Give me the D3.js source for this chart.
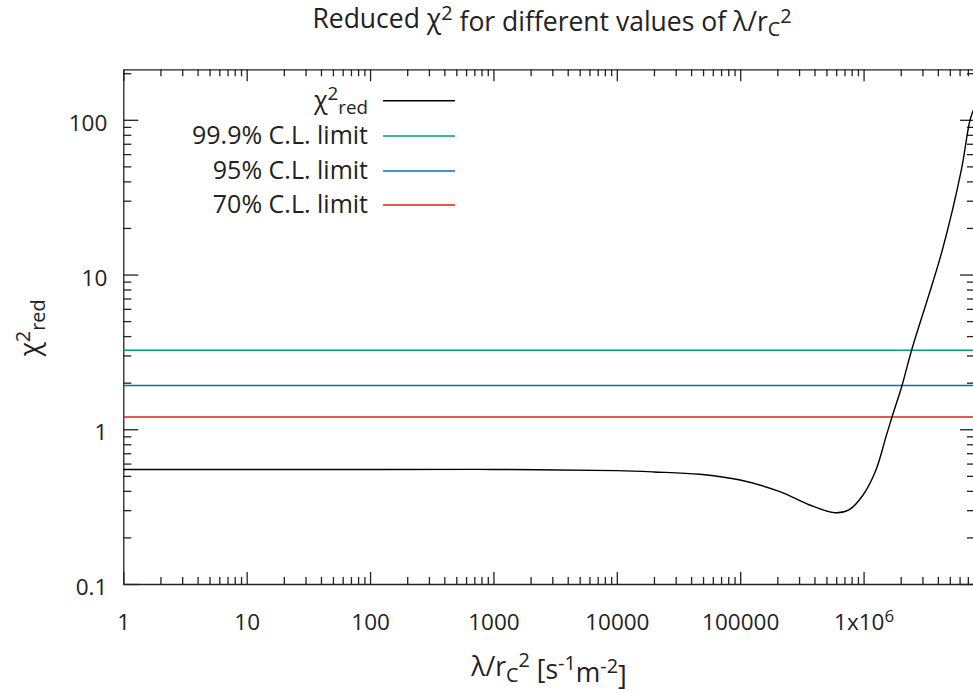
<!DOCTYPE html>
<html><head><meta charset="utf-8">
<script src="https://cdn.jsdelivr.net/npm/d3@7"></script>
<style>
body{margin:0;background:#fff;}
svg{display:block;font-family:"Open Sans",sans-serif;}
</style></head>
<body>
<svg id="c" width="973" height="693"></svg>
<script>
// ---- data ----
const lambdaValues = [1, 10, 100, 1000, 10000, 20000, 47000, 100000, 210000, 365000, 590000, 760000, 990000, 1260000, 1520000, 1700000, 2050000, 2450000, 4350000, 6200000, 7300000, 8000000];
const chi2Values   = [0.55, 0.55, 0.55, 0.55, 0.54, 0.53, 0.512, 0.47, 0.395, 0.324, 0.289, 0.301, 0.376, 0.546, 0.896, 1.2, 1.92, 3.24, 14.4, 47.4, 100, 122];
const limitNames  = ["99.9% C.L. limit", "95% C.L. limit", "70% C.L. limit"];
const limitValues = [3.24, 1.92, 1.2];
const limitColors = ["#009e73", "#0072b2", "#e51e10"];
const xMajorTicks = [1, 10, 100, 1000, 10000, 100000, 1000000];
const xTickLabels = ["1", "10", "100", "1000", "10000", "100000", "1x10^6"];
const yMajorTicks = [0.1, 1, 10, 100];
const yTickLabels = ["0.1", "1", "10", "100"];

// ---- layout ----
const L = 123.3, R = 975, T = 69.3, B = 584;
const svg = d3.select("#c");
const x = d3.scaleLog().domain([1, 8e6]).range([L, R]);
const y = d3.scaleLog().domain([0.1, 212]).range([B, T]);

function minors(lo, hi){
  const out=[];
  for(let d=lo; d<hi; d*=10) for(let k=2;k<=9;k++){ const v=d*k; if(v<=hi) out.push(v); }
  return out;
}
const xMinor = minors(1, 8e6);
const yMinor = minors(0.1, 212);

const FS = 22.5;    // tick labels
const FL = 25;      // legend
const FT = 26.5;    // title / axis labels
const axisColor = "#222";

function styleAxis(g){
  g.selectAll("path.domain").attr("stroke", axisColor).attr("stroke-width", 1.3);
  g.selectAll(".tick line").attr("stroke", axisColor).attr("stroke-width", 1.3);
  g.selectAll("text").attr("font-size", FS).attr("fill", "#222").attr("font-family", "Open Sans, sans-serif");
}

// bottom
const gB = svg.append("g").attr("transform", `translate(0,${B})`)
  .call(d3.axisBottom(x).tickValues(xMajorTicks).tickSizeInner(-12).tickSizeOuter(0).tickPadding(30)
    .tickFormat((d,i)=>xTickLabels[i]));
styleAxis(gB);
gB.selectAll(".tick text").each(function(d,i){
  const lab = xTickLabels[i];
  if(lab.includes("^")){
    const [base, sup] = lab.split("^");
    const t = d3.select(this).text(null);
    t.append("tspan").text(base);
    t.append("tspan").attr("dy","-0.45em").attr("font-size", FS*0.75).text(sup);
  }
});
svg.append("g").attr("transform", `translate(0,${B})`)
  .call(d3.axisBottom(x).tickValues(xMinor).tickSizeInner(-7).tickSizeOuter(0).tickFormat(""))
  .call(g=>{g.select("path.domain").remove(); styleAxis(g);});
// top
svg.append("g").attr("transform", `translate(0,${T})`)
  .call(d3.axisTop(x).tickValues(xMajorTicks).tickSizeInner(-12).tickSizeOuter(0).tickFormat(""))
  .call(styleAxis);
svg.append("g").attr("transform", `translate(0,${T})`)
  .call(d3.axisTop(x).tickValues(xMinor).tickSizeInner(-7).tickSizeOuter(0).tickFormat(""))
  .call(g=>{g.select("path.domain").remove(); styleAxis(g);});
// left
const gL = svg.append("g").attr("transform", `translate(${L},0)`)
  .call(d3.axisLeft(y).tickValues(yMajorTicks).tickSizeInner(-15).tickSizeOuter(0).tickPadding(16)
    .tickFormat((d,i)=>yTickLabels[i]));
styleAxis(gL);
gL.selectAll(".tick text").attr("dy","0.47em");
svg.append("g").attr("transform", `translate(${L},0)`)
  .call(d3.axisLeft(y).tickValues(yMinor).tickSizeInner(-8).tickSizeOuter(0).tickFormat(""))
  .call(g=>{g.select("path.domain").remove(); styleAxis(g);});
// right
svg.append("g").attr("transform", `translate(${R},0)`)
  .call(d3.axisRight(y).tickValues(yMajorTicks).tickSizeInner(-15).tickSizeOuter(0).tickFormat(""))
  .call(styleAxis);
svg.append("g").attr("transform", `translate(${R},0)`)
  .call(d3.axisRight(y).tickValues(yMinor).tickSizeInner(-8).tickSizeOuter(0).tickFormat(""))
  .call(g=>{g.select("path.domain").remove(); styleAxis(g);});

// limit lines
limitValues.forEach((v,i)=>{
  svg.append("line").attr("x1", x(1)).attr("x2", x(8e6))
    .attr("y1", y(v)).attr("y2", y(v))
    .attr("stroke", limitColors[i]).attr("stroke-width", 1.4);
});

// chi2 curve
const data = lambdaValues.map((d,i)=>[d, chi2Values[i]]);
svg.append("path").datum(data)
  .attr("fill","none").attr("stroke","#000").attr("stroke-width",1.4)
  .attr("d", d3.line().x(d=>x(d[0])).y(d=>y(d[1])).curve(d3.curveCatmullRom.alpha(0.5)));

// legend
const legX = 368, legL1 = 383, legL2 = 455;
const legRows = [100.7, 136, 171, 205];
const lg = svg.append("g").attr("font-size", FL).attr("fill","#222");
{
  const t = lg.append("text").attr("x", legX).attr("y", legRows[0]+8).attr("text-anchor","end");
  t.append("tspan").text("χ");
  t.append("tspan").attr("dy","-0.45em").attr("font-size",FL*0.75).text("2");
  t.append("tspan").attr("dy","0.75em").attr("font-size",FL*0.75).text("red");
  lg.append("line").attr("x1",legL1).attr("x2",legL2).attr("y1",legRows[0]).attr("y2",legRows[0])
    .attr("stroke","#000").attr("stroke-width",1.4);
}
limitNames.forEach((n,i)=>{
  lg.append("text").attr("x", legX).attr("y", legRows[i+1]+8).attr("text-anchor","end").text(n);
  lg.append("line").attr("x1",legL1).attr("x2",legL2).attr("y1",legRows[i+1]).attr("y2",legRows[i+1])
    .attr("stroke",limitColors[i]).attr("stroke-width",1.4);
});

// title
{
  const t = svg.append("text").attr("x", 552).attr("y", 28).attr("text-anchor","middle")
    .attr("font-size", FT).attr("fill","#222");
  t.append("tspan").text("Reduced χ");
  t.append("tspan").attr("dy","-0.38em").attr("font-size",FT*0.75).text("2");
  t.append("tspan").attr("dy","0.38em").text(" for different values of λ/r");
  t.append("tspan").attr("dy","0.3em").attr("font-size",FT*0.75).text("C");
  t.append("tspan").attr("dy","-0.68em").attr("font-size",FT*0.75).text("2");
}
// x label
{
  const t = svg.append("text").attr("x", 549).attr("y", 676).attr("text-anchor","middle")
    .attr("font-size", FT).attr("fill","#222");
  t.append("tspan").text("λ/r");
  t.append("tspan").attr("dy","0.3em").attr("font-size",FT*0.75).text("C");
  t.append("tspan").attr("dy","-0.75em").attr("font-size",FT*0.75).text("2");
  t.append("tspan").attr("dy","0.45em").text(" [s");
  t.append("tspan").attr("dy","-0.45em").attr("font-size",FT*0.75).text("-1");
  t.append("tspan").attr("dy","0.45em").text("m");
  t.append("tspan").attr("dy","-0.45em").attr("font-size",FT*0.75).text("-2");
  t.append("tspan").attr("dy","0.45em").text("]");
}
// y label
{
  const t = svg.append("text").attr("transform","translate(39,328) rotate(-90)").attr("text-anchor","middle")
    .attr("font-size", FT).attr("fill","#222");
  t.append("tspan").text("χ");
  t.append("tspan").attr("dy","-0.45em").attr("font-size",FT*0.75).text("2");
  t.append("tspan").attr("dy","0.75em").attr("font-size",FT*0.75).text("red");
}
</script>
</body></html>
